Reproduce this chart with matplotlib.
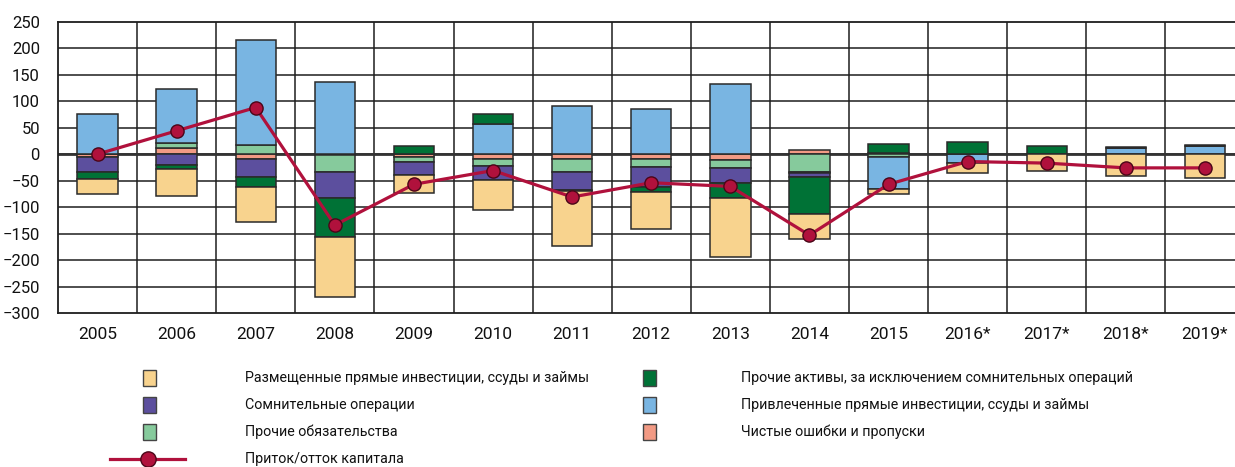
import matplotlib
matplotlib.use("Agg")
import matplotlib.pyplot as plt
from matplotlib.patches import Rectangle
from matplotlib.lines import Line2D
import numpy as np

plt.rcParams['font.family'] = ['Roboto', 'DejaVu Sans']

years = ["2005", "2006", "2007", "2008", "2009", "2010", "2011", "2012", "2013", "2014",
         "2015", "2016*", "2017*", "2018*", "2019*"]

# stacking order from zero outwards
pink = [-5, 11, -10, -2, -6, -10, -9, -10, -11, 7, 3, 0, 0, 0, 0]
lgreen = [0, 10, 18, -31, -9, -12, -25, -14, -16, -33, -5, 0, 0, 0, 0]
blue = [75, 102, 198, 137, 0, 56, 91, 86, 133, -3, -60, -16, 0, 11, 16]
purple = [-28, -21, -34, -50, -25, -27, -34, -39, -27, -8, 0, 0, 0, 0, 0]
dgreen = [-14, -7, -18, -73, 16, 19, -2, -9, -28, -69, 17, 22, 16, 3, 1.5]
yellow = [-28, -52, -67, -113, -33, -57, -104, -69, -112, -47, -11, -20, -32, -41, -45]
flow = [0, 44, 88, -134, -57, -31, -81, -54, -61, -153, -57, -14, -17, -26, -26]

names = {
    'yellow': "Размещенные прямые инвестиции, ссуды и займы",
    'purple': "Сомнительные операции",
    'lgreen': "Прочие обязательства",
    'flow': "Приток/отток капитала",
    'dgreen': "Прочие активы, за исключением сомнительных операций",
    'blue': "Привлеченные прямые инвестиции, ссуды и займы",
    'pink': "Чистые ошибки и пропуски",
}
colors = {
    'pink': '#F29A84', 'lgreen': '#86CA9C', 'blue': '#79B5E2',
    'purple': '#5C4F9E', 'dgreen': '#007236', 'yellow': '#F8D38E',
}
line_color = '#B0113C'

series = [('pink', pink), ('lgreen', lgreen), ('blue', blue),
          ('purple', purple), ('dgreen', dgreen), ('yellow', yellow)]

fig = plt.figure(figsize=(12.35, 4.67), dpi=100)
ax = fig.add_axes([58 / 1235, 1 - 313 / 467, 15 * 79.1 / 1235, (313 - 21.7) / 467])

x = np.arange(len(years))
pos = np.zeros(len(years))
neg = np.zeros(len(years))
for key, vals in series:
    v = np.array(vals, dtype=float)
    bottom = np.where(v >= 0, pos, neg)
    ax.bar(x, v, 0.51, bottom=bottom, color=colors[key], edgecolor='#2a2a2a',
           linewidth=1.1, zorder=2)
    pos = np.where(v >= 0, pos + v, pos)
    neg = np.where(v < 0, neg + v, neg)

ax.plot(x, flow, color=line_color, lw=2.3, marker='o', markersize=9.5,
        markerfacecolor=line_color, markeredgecolor='#4a0618', markeredgewidth=1, zorder=4)

ax.set_xlim(-0.5, 14.5)
ax.set_ylim(-300, 250)
ax.set_yticks(np.arange(-300, 251, 50))
ax.set_xticks(x)
ax.set_xticklabels(years)
for yv in np.arange(-250, 250, 50):
    ax.axhline(yv, color='#1e1e1e', lw=1.1, zorder=0)
ax.axhline(0, color='#333333', lw=2, zorder=1)
for xv in np.arange(0.5, 14.5, 1):
    ax.axvline(xv, color='#1e1e1e', lw=1.1, zorder=0)
for s in ax.spines.values():
    s.set_color('#1e1e1e')
    s.set_linewidth(1.3)
ax.tick_params(length=0, labelsize=12.5, colors='#111111')
ax.tick_params(axis='x', pad=10)
ax.tick_params(axis='y', pad=13, labelsize=12)

# legend drawn on an overlay in pixel coordinates
lg = fig.add_axes([0, 0, 1, 1])
lg.set_xlim(0, 1235)
lg.set_ylim(467, 0)
lg.axis('off')
col1 = ['yellow', 'purple', 'lgreen']
col2 = ['dgreen', 'blue', 'pink']
rows = [378, 405, 432]
for ry, k1, k2 in zip(rows, col1, col2):
    for px, tx, k in [(143, 245, k1), (643, 741, k2)]:
        lg.add_patch(Rectangle((px, ry - 8), 13, 16, facecolor=colors[k],
                               edgecolor='#444444', lw=1))
        lg.text(tx, ry, names[k], va='center', ha='left', fontsize=10.3, color='#111111')
lg.add_line(Line2D([110, 185], [459, 459], color=line_color, lw=2.3, marker=None))
lg.plot([148], [459], marker='o', markersize=11, color=line_color,
        markeredgecolor='#4a0618', markeredgewidth=1)
lg.text(245, 459, names['flow'], va='center', ha='left', fontsize=10.3, color='#111111')

fig.savefig("out.png", dpi=100)
